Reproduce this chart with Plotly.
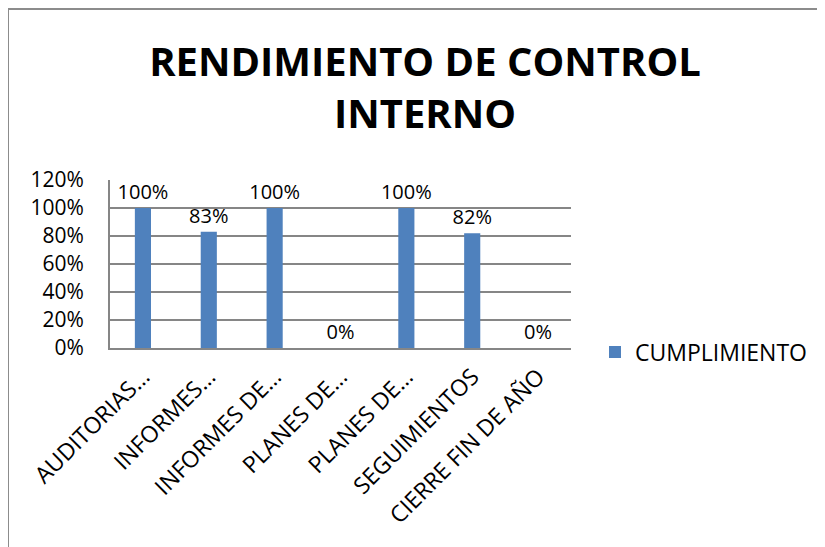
import plotly.graph_objects as go

categories = ["AUDITORIAS…", "INFORMES…", "INFORMES DE…", "PLANES DE…",
              "PLANES DE…", "SEGUIMIENTOS", "CIERRE FIN DE AÑO"]
cumplimiento = [1.00, 0.83, 1.00, 0.00, 1.00, 0.82, 0.00]
labels = ["100%", "83%", "100%", "0%", "100%", "82%", "0%"]
y_ticks = [0, 0.2, 0.4, 0.6, 0.8, 1.0, 1.2]
y_tick_text = ["0%", "20%", "40%", "60%", "80%", "100%", "120%"]

# unique x positions (two categories share the same truncated label)
xpos = list(range(len(categories)))

FONT = "Open Sans"
W, H = 825, 547
OFF = 8  # page body offset
PL, PR, PT, PB = 110, 571, 180, 348  # target plot box in page pixels
L, T = PL - OFF, PT - OFF
pw, ph = PR - PL, PB - PT
R, B = W - L - pw, H - T - ph


def px2x(px):
    return (px - PL) / pw


def py2y(py):
    return (PB - py) / ph


fig = go.Figure()
fig.add_trace(go.Bar(
    x=xpos, y=cumplimiento, name="CUMPLIMIENTO",
    marker=dict(color="#4F81BD", line=dict(width=0)),
    width=0.245,
    text=labels, textposition="outside", cliponaxis=False,
    constraintext="none",
    textfont=dict(family=FONT, size=20, color="#000000"),
))

fig.update_layout(
    width=W, height=H,
    margin=dict(l=L, r=R, t=T, b=B, autoexpand=False),
    paper_bgcolor="white", plot_bgcolor="white",
    font=dict(family=FONT, size=20, color="#000000"),
    title=dict(
        text="RENDIMIENTO DE CONTROL<br>INTERNO",
        font=dict(family=FONT, size=40, color="#000000", weight="bold"),
        x=(425 - OFF) / W, xanchor="center", xref="container",
        y=1 - 68 / H, yanchor="middle", yref="container",
    ),
    showlegend=True,
    legend=dict(
        x=px2x(595), y=py2y(352), xanchor="left", yanchor="middle",
        font=dict(family=FONT, size=23, color="#000000"),
        bgcolor="rgba(0,0,0,0)", itemwidth=30,
    ),
    bargap=0.75,
    shapes=[dict(type="rect", xref="paper", yref="paper",
                 x0=px2x(8), x1=px2x(850), y0=py2y(570), y1=py2y(9),
                 line=dict(color="#8C8C8C", width=2), fillcolor="rgba(0,0,0,0)",
                 layer="below")],
)

fig.update_xaxes(
    tickmode="array", tickvals=xpos, ticktext=categories,
    tickangle=-45, range=[-0.5, len(categories) - 0.5],
    showline=True, linecolor="#868686", linewidth=2,
    showgrid=False, ticks="", ticklabelstandoff=4,
    tickfont=dict(family=FONT, size=23, color="#000000"),
)
fig.update_yaxes(
    range=[0, 1.2], tickmode="array", tickvals=y_ticks, ticktext=y_tick_text,
    showline=True, linecolor="#868686", linewidth=2,
    showgrid=True, gridcolor="#868686", gridwidth=2,
    ticks="", ticklabelstandoff=20, zeroline=False,
    tickfont=dict(family=FONT, size=21, color="#000000"),
)

fig.write_html("out.html")
